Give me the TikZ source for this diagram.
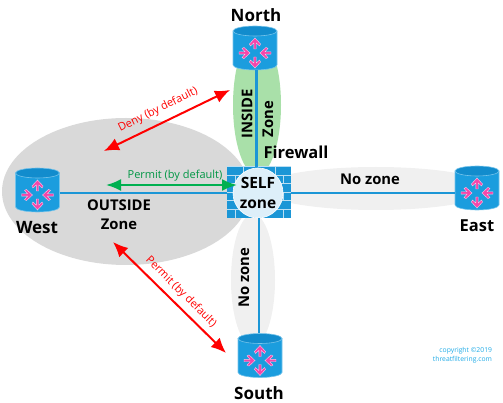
\documentclass[tikz,border=0pt]{standalone}
\usepackage{fontspec}
\setmainfont{Open Sans}
\usepackage{tikz}
\usetikzlibrary{calc}
\usetikzlibrary{arrows.meta}
\definecolor{linkblue}{RGB}{27,150,214}
\definecolor{routerblue}{RGB}{27,157,222}
\definecolor{routertop}{RGB}{18,140,205}
\definecolor{zonegrey}{RGB}{217,217,217}
\definecolor{zonelight}{RGB}{240,240,240}
\definecolor{zonegreen}{RGB}{169,224,169}
\definecolor{arrowpink}{RGB}{244,70,170}
\definecolor{permitgreen}{RGB}{0,176,80}
\definecolor{copyblue}{RGB}{30,170,230}
\tikzset{
	router/.style={shape=rectangle, minimum width=44, minimum height=44, inner sep=0},
	placename/.style={font=\bfseries\fontsize{17}{19}\selectfont},
	smallname/.style={font=\bfseries\fontsize{16.5}{19}\selectfont},
	zonename/.style={font=\bfseries\fontsize{14.8}{19}\selectfont, align=center},
	policy/.style={font=\fontsize{11}{13}\selectfont},
	link/.style={linkblue, line width=2.8},
	redarrow/.style={red, line width=2, {Latex[length=15,width=13]}-{Latex[length=15,width=13]}},
	greenarrow/.style={permitgreen, line width=2.2, {Latex[length=15,width=12]}-{Latex[length=15,width=12]}},
	brick/.style={white!70!linkblue, line width=0.6},
	petal/.pic={
		\path[fill=arrowpink, draw=white!70!arrowpink, line width=0.4] (0, -1.2) -- (6, -1.2) -- (3, -4.6) -- (5, -5.6) -- (11, 0) -- (5, 5.6) -- (3, 4.6) -- (6, 1.2) -- (0, 1.2) -- cycle;
	},
}
\begin{document}
\begin{tikzpicture}[x=1pt, y=-1pt]
			\useasboundingbox (0, 0) rectangle (503, 403);

			% zones
			\fill[zonegrey] (126, 191.5) ellipse[x radius=124, y radius=73.5];
			\fill[zonelight] (376, 188.5) ellipse[x radius=116, y radius=21.5];
			\fill[zonelight] (253, 280) ellipse[x radius=22, y radius=66];
			\fill[zonegreen] (257, 105) ellipse[x radius=24, y radius=70];

			% routers
			\foreach \rname/\rx/\ry in {north/255/48, west/37.5/190, east/477/188, south/260/355.5}{
				\node[router] (\rname) at (\rx, \ry) {};
				\path[fill=routerblue, draw=white!40!routerblue, line width=0.6] ($(\rname.center)+(-22, -17)$) -- ($(\rname.center)+(-22, 17)$) arc[x radius=22, y radius=5, start angle=180, end angle=0] -- ($(\rname.center)+(22, -17)$) -- cycle;
				\path[fill=routertop, draw=white!40!routerblue, line width=0.6] ($(\rname.center)+(0, -17)$) ellipse[x radius=22, y radius=5];
				\pic[rotate=90] at ($(\rname.center)+(0, 1)$) {petal};
				\pic[rotate=-90] at ($(\rname.center)+(0, 9)$) {petal};
				\pic at ($(\rname.center)+(-16, 5)$) {petal};
				\pic[rotate=180] at ($(\rname.center)+(16, 5)$) {petal};
			}

			% firewall
			\node[fill=linkblue, minimum width=64, minimum height=51, inner sep=0] (wall) at (259, 192.5) {};
			\foreach \by in {0, 1, ..., 5}{
				\draw[brick] ($(wall.north west)+(0, 8.5*\by)$) -- ($(wall.north east)+(0, 8.5*\by)$);
			}
			\foreach \by in {0, 2, 4}{
				\foreach \bx in {16, 48}{
					\draw[brick] ($(wall.north west)+(\bx, 8.5*\by)$) -- ($(wall.north west)+(\bx, 8.5*\by+8.5)$);
				}
			}
			\foreach \by in {1, 3, 5}{
				\foreach \bx in {8, 32, 56}{
					\draw[brick] ($(wall.north west)+(\bx, 8.5*\by)$) -- ($(wall.north west)+(\bx, 8.5*\by+8.5)$);
				}
			}
			\node[circle, fill=white!85!linkblue, draw=white, line width=0.6, minimum size=50, inner sep=0] (self) at (258, 193) {};

			% links
			\draw[link] ($(north.south)+(1.5, 0)$) -- ($(north.south |- wall.north)+(1.5, 0)$);
			\draw[link] (wall.south) -- (wall.south |- south.north);
			\draw[link] (west.east |- self) -- (wall.west |- self);
			\draw[link] (wall.east |- self) -- (east.west |- self);

			% texts
			\node[placename] (northname) at (256, 15) {North};
			\node[placename] (westname) at (37, 228) {West};
			\node[smallname] (eastname) at (477, 226) {East};
			\node[placename] (southname) at (259, 393) {South};
			\node[smallname] (fwname) at (296, 152) {Firewall};
			\node[zonename, font=\bfseries\fontsize{15.5}{20}\selectfont] (selfname) at (258, 193) {SELF\\zone};
			\node[zonename] (outside) at (119, 215) {OUTSIDE\\Zone};
			\node[zonename] (eastzone) at (370, 179) {No zone};
			\node[zonename, rotate=90] (southzone) at (244, 278) {No zone};
			\node[zonename, rotate=90] (inside) at (247, 114) {INSIDE};
			\node[zonename, rotate=90] (insidezone) at (268, 119) {Zone};

			% policies
			\coordinate (denyA) at (230, 90);
			\coordinate (denyB) at (104, 151);
			\draw[redarrow] (denyA) -- (denyB);
			\node[policy, red, rotate=26.5] (denytext) at (158, 110) {Deny (by default)};
			\coordinate (permitW) at (106, 185);
			\coordinate (permitE) at (237, 185);
			\draw[greenarrow] (permitW) -- (permitE);
			\node[policy, permitgreen!85!black] (permittext) at (175, 176) {Permit (by default)};
			\coordinate (southA) at (113, 242);
			\coordinate (southB) at (226, 353);
			\draw[redarrow] (southA) -- (southB);
			\node[policy, red, rotate=-45] (southtext) at (181, 292) {Permit (by default)};

			\node[font=\fontsize{6.8}{9}\selectfont, text=copyblue, align=right] (copy) at (462.5, 355.5) {copyright ©2019\\threatfiltering.com};
		\end{tikzpicture}
\end{document}
